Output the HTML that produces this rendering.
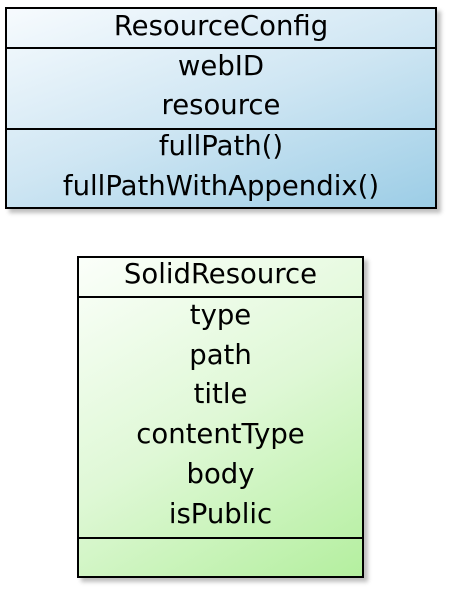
<!DOCTYPE html>
<html><head><style>
body{margin:0;width:454px;height:592px;background:#fff;position:relative;font-family:"DejaVu Sans","Liberation Sans",sans-serif;font-size:27.5px;color:#000;overflow:hidden}
.box{position:absolute;border:2px solid #000;box-sizing:border-box;box-shadow:4px 4px 4px rgba(0,0,0,0.25)}
.t{position:absolute;left:0;right:0;text-align:center;line-height:28px;white-space:nowrap}
.l{position:absolute;left:0;right:0;height:0;border-top:2px solid #000}
</style></head><body>
<div class="box" style="left:5px;top:7px;width:432px;height:202px;background:linear-gradient(160deg,#f7fbfe 0%,#cfe6f3 50%,#9ccde6 100%)">
<div class="t" style="top:3px">ResourceConfig</div>
<div class="l" style="top:38px"></div>
<div class="t" style="top:43px">webID</div>
<div class="t" style="top:82px">resource</div>
<div class="l" style="top:119px"></div>
<div class="t" style="top:123px">fullPath()</div>
<div class="t" style="top:163px">fullPathWithAppendix()</div>
</div>
<div class="box" style="left:77px;top:256px;width:287px;height:322px;background:linear-gradient(150deg,#fbfffa 0%,#dff8d6 50%,#b4ef9f 100%)">
<div class="t" style="top:2px">SolidResource</div>
<div class="l" style="top:38px"></div>
<div class="t" style="top:43px">type</div>
<div class="t" style="top:83px">path</div>
<div class="t" style="top:122px">title</div>
<div class="t" style="top:162px">contentType</div>
<div class="t" style="top:202px">body</div>
<div class="t" style="top:242px">isPublic</div>
<div class="l" style="top:279px"></div>
</div>
</body></html>
